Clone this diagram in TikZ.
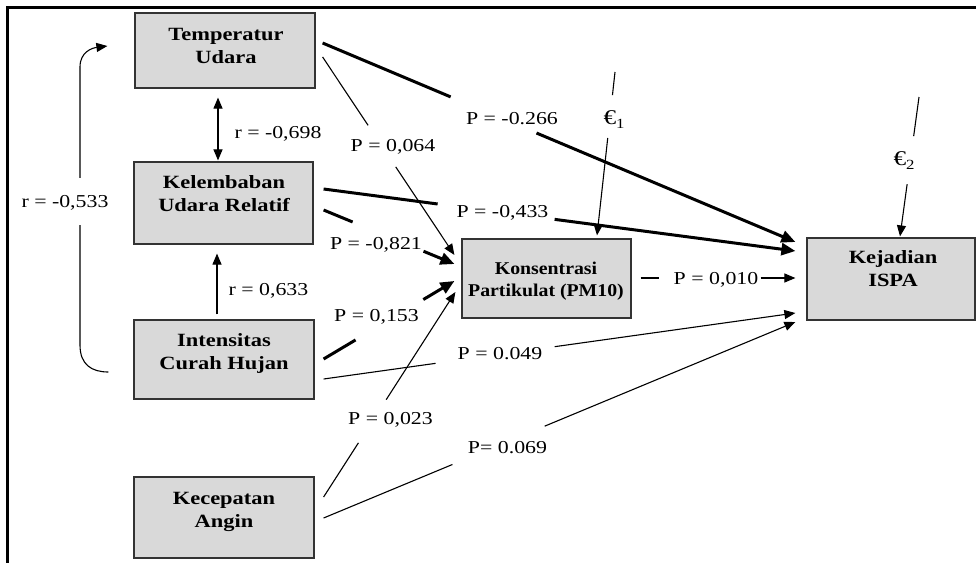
\documentclass[tikz,border=0pt]{standalone}
\usepackage{fontspec}
\setmainfont{Liberation Serif}[FakeStretch=1.2]
\newfontfamily\narrowfont{Liberation Serif}[FakeStretch=1.1]
\usetikzlibrary{arrows.meta,calc}
\newcommand{\epsl}[1]{{\fontsize{21pt}{22pt}\selectfont €}\raisebox{-4pt}{\fontsize{14pt}{14pt}\selectfont #1}}
\begin{document}
\begin{tikzpicture}[x=1pt,y=-1pt,
  box/.style={draw=black!80, line width=1.2pt, fill=gray!30, inner sep=0pt},
  boxtxt/.style={font=\fontsize{18.7pt}{23.5pt}\selectfont\bfseries, align=center, inner sep=0pt, anchor=north},
  lbl/.style={font=\fontsize{18.2pt}{22pt}\selectfont, inner sep=0pt, text height=12pt, text depth=0pt},
  thinarr/.style={line width=1.1pt, -{Triangle[length=11pt,width=9pt]}},
  thickarr/.style={line width=3pt, -{Triangle[length=14pt,width=12pt]}},
  gapat/.style 2 args={dash pattern=on #1 off #2 on 2000pt off 1pt},
]
\useasboundingbox (0,0) rectangle (976,563);
% frame
\draw[line width=3pt] (976,7) -- (7,7) -- (7,563);

% boxes
\node[box, minimum width=180pt, minimum height=75pt] (temp) at (225,50.5) {};
\node[box, minimum width=179pt, minimum height=82pt] (kel) at (223.5,203) {};
\node[box, minimum width=180pt, minimum height=79pt] (int) at (224,359.5) {};
\node[box, minimum width=180pt, minimum height=81pt] (kec) at (224,517.5) {};
\node[box, minimum width=169pt, minimum height=79pt] (kon) at (546.5,278.5) {};
\node[box, minimum width=168pt, minimum height=82pt] (kej) at (891,279) {};

% box texts
\node[boxtxt] (tempT) at (226,28) {Temperatur\\Udara};
\node[boxtxt] (kelT) at (224,175) {Kelembaban\\Udara Relatif};
\node[boxtxt] (intT) at (224,333) {Intensitas\\Curah Hujan};
\node[boxtxt] (kecT) at (224,492) {Kecepatan\\Angin};
\node[boxtxt, font=\fontsize{18pt}{21.5pt}\selectfont\bfseries\narrowfont] (konT) at (546,262) {Konsentrasi\\Partikulat (PM10)};
\node[boxtxt] (kejT) at (893,250) {Kejadian\\ISPA};

% free ends
\coordinate (e1s) at (615,72);
\coordinate (e2s) at (919,97);

% correlations
\draw[thinarr, {Triangle[length=11pt,width=9pt]}-{Triangle[length=11pt,width=9pt]}]
  ([shift={(-7,9)}]temp.south) -- ([shift={(-5.5,-1)}]kel.north);
\draw[thinarr] ([shift={(-7,-5)}]int.north) -- ([shift={(-6.5,9)}]kel.south);
\draw[thinarr] ([shift={(-25,12.5)}]int.west) .. controls (92,372) and (80,365) .. (80,345)
  -- (80,67) .. controls (80,52) and (92,48) .. ([shift={(-27,-4.5)}]temp.west);

% paths
\draw[thickarr, gapat={138.9pt}{93.2pt}] ([shift={(7,-7.5)}]temp.east) -- ([shift={(-11,-37)}]kej.west);
\draw[thinarr, gapat={82.1pt}{49.9pt}] ([shift={(7,6.5)}]temp.east) -- ([shift={(-7,-23.5)}]kon.west);
\draw[thickarr, gapat={115pt}{118pt}] ([shift={(10,-14)}]kel.east) -- ([shift={(-11,-28)}]kej.west);
\draw[thickarr, gapat={31.4pt}{76.7pt}] ([shift={(10,7)}]kel.east) -- ([shift={(-7,-14.5)}]kon.west);
\draw[thickarr, gapat={37.2pt}{78.9pt}] ([shift={(9,-0.5)}]int.east) -- ([shift={(-7,2.5)}]kon.west);
\draw[thinarr, gapat={113.1pt}{120.2pt}] ([shift={(9,19.5)}]int.east) -- ([shift={(-11,34)}]kej.west);
\draw[thinarr, gapat={64.4pt}{51.3pt}] ([shift={(9,-20.5)}]kec.east) -- ([shift={(-6,13.5)}]kon.west);
\draw[thinarr, gapat={139.5pt}{99.9pt}] ([shift={(9,0.5)}]kec.east) -- ([shift={(-11,43)}]kej.west);
\draw[thinarr, gapat={18pt}{102pt}] ([shift={(9,-0.5)}]kon.east) -- ([shift={(-11,-1)}]kej.west);
\draw[thinarr, gapat={23.2pt}{43.2pt}] (e1s) -- ([shift={(50.5,-3)}]kon.north);
\draw[thinarr, gapat={39.5pt}{48.4pt}] (e2s) -- ([shift={(9,-1)}]kej.north);

% labels
\node[lbl] (l698) at (278,132) {r = -0,698};
\node[lbl] (l633) at (268.5,289) {r = 0,633};
\node[lbl, fill=white, minimum height=47pt] (l533) at (65,201) {r = -0,533};
\node[lbl] (l064) at (393,145) {P = 0,064};
\node[lbl] (l266) at (512,118) {P = -0.266};
\node[lbl] (le1) at (614,118) {\epsl{1}};
\node[lbl] (l433) at (502.5,211) {P = -0,433};
\node[lbl] (l821) at (376,243) {P = -0,821};
\node[lbl] (l153) at (376.5,315) {P = 0,153};
\node[lbl] (l010) at (716,278) {P = 0,010};
\node[lbl] (le2) at (904,159) {\epsl{2}};
\node[lbl] (l049) at (500,353) {P = 0.049};
\node[lbl] (l023) at (390.5,418) {P = 0,023};
\node[lbl] (l069) at (507.5,447) {P= 0.069};
\end{tikzpicture}
\end{document}
